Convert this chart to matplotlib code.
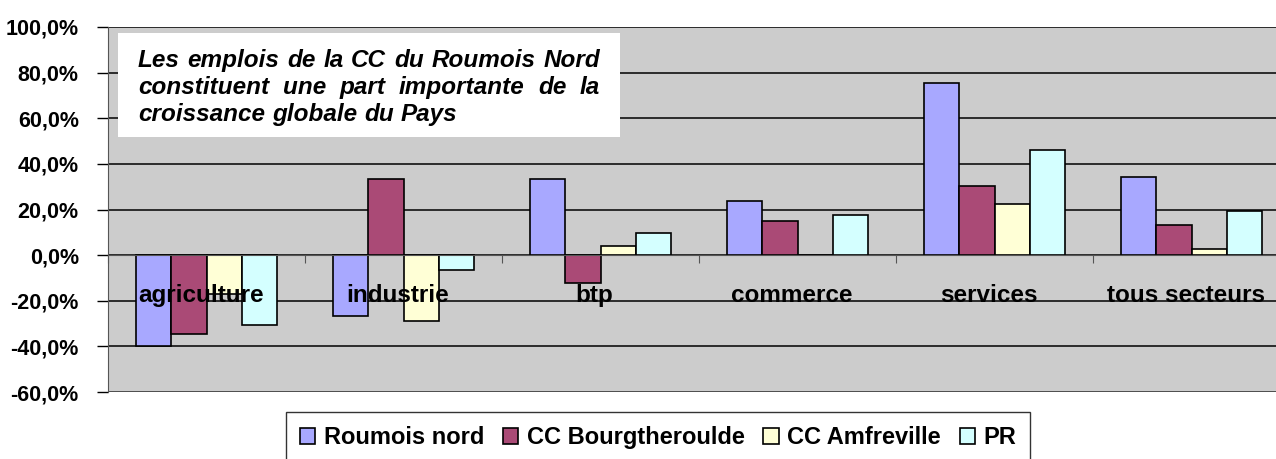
import matplotlib
matplotlib.use('Agg')
import matplotlib.pyplot as plt
import numpy as np
from matplotlib.patches import Rectangle
from matplotlib.ticker import FuncFormatter

plt.rcParams['font.family'] = ['Liberation Sans', 'DejaVu Sans']

categories = ['agriculture', 'industrie', 'btp', 'commerce', 'services', 'tous secteurs']
series = ['Roumois nord', 'CC Bourgtheroulde', 'CC Amfreville', 'PR']
roumois = [-40.0, -26.5, 33.2, 23.8, 75.5, 34.3]
bourg = [-34.5, 33.2, -12.0, 14.8, 30.5, 13.4]
amfreville = [-17.0, -29.0, 4.0, 0.0, 22.6, 2.5]
pr = [-30.5, -6.7, 9.5, 17.4, 46.3, 19.5]
colors = ['#a8a8ff', '#aa4a76', '#ffffd6', '#d4ffff']
yticks = [-60, -40, -20, 0, 20, 40, 60, 80, 100]
note = ['Les emplois de la CC du Roumois Nord',
        'constituent une part importante de la',
        'croissance globale du Pays']

fig = plt.figure(figsize=(12.76, 4.59), dpi=100)
fig.patch.set_facecolor('white')
ax = fig.add_axes([108/1276, 67/459, 1182/1276, 365/459])
ax.set_facecolor('#cccccc')

x = np.arange(len(categories))
w = 0.179
for i, (vals, c, lab) in enumerate(zip([roumois, bourg, amfreville, pr], colors, series)):
    ax.bar(x + (i - 1.5) * w, vals, w, color=c, edgecolor='black', linewidth=1.2,
           label=lab, zorder=3)

ax.set_xlim(-0.5, len(categories) - 0.5)
ax.set_ylim(-60, 100)
ax.set_yticks(yticks)
ax.yaxis.set_major_formatter(FuncFormatter(lambda v, p: ('%.1f%%' % v).replace('.', ',')))
ax.yaxis.grid(True, color='black', linewidth=1.1, zorder=1)
ax.tick_params(axis='y', length=8, width=1, labelsize=15.5, pad=13)
for t in ax.get_yticklabels():
    t.set_fontweight('bold')

# category axis at zero
ax.spines['bottom'].set_position(('data', 0))
ax.spines['bottom'].set_color('#555555')
ax.spines['bottom'].set_zorder(4)
ax.spines['top'].set_visible(False)
ax.spines['right'].set_visible(False)
ax.spines['left'].set_color('#555555')
ax.set_xticks(np.arange(len(categories) + 1) - 0.5)
ax.set_xticklabels([])
ax.tick_params(axis='x', length=6, direction='out', color='#555555')
ax.axhline(-60, color='#555555', linewidth=2, zorder=4)

for xi, cat in zip(x, categories):
    ax.text(xi - 0.03, -17.5, cat, ha='center', va='center', fontsize=17.5,
            fontweight='bold', zorder=5)

# note box
ax.add_patch(Rectangle((10/1182, 255/365), 502/1182, 104/365, transform=ax.transAxes,
                       facecolor='white', edgecolor='none', zorder=6))
fig.canvas.draw()
r = fig.canvas.get_renderer()
left, right = 138, 600
base = [67, 94, 121]
for k, line in enumerate(note):
    words = line.split(' ')
    yy = 1 - base[k] / 459
    objs = [fig.text(0, yy, wd, fontsize=17.5, fontweight='bold', style='italic',
                     va='baseline', ha='left', zorder=7) for wd in words]
    widths = [o.get_window_extent(r).width for o in objs]
    if k < len(note) - 1:
        gap = (right - left - sum(widths)) / (len(words) - 1)
    else:
        gap = 7
    pos = left
    for o, wd in zip(objs, widths):
        o.set_x(pos / 1276)
        pos += wd + gap

leg = fig.legend(loc='upper center', bbox_to_anchor=(658/1276, 47/459), ncol=4,
                 prop={'size': 17, 'weight': 'bold'}, frameon=True, fancybox=False,
                 edgecolor='black', handlelength=0.65, handleheight=0.65,
                 handletextpad=0.35, columnspacing=0.8, borderpad=0.6,
                 borderaxespad=0)
leg.get_frame().set_linewidth(1)

fig.savefig('out.png', dpi=100)
